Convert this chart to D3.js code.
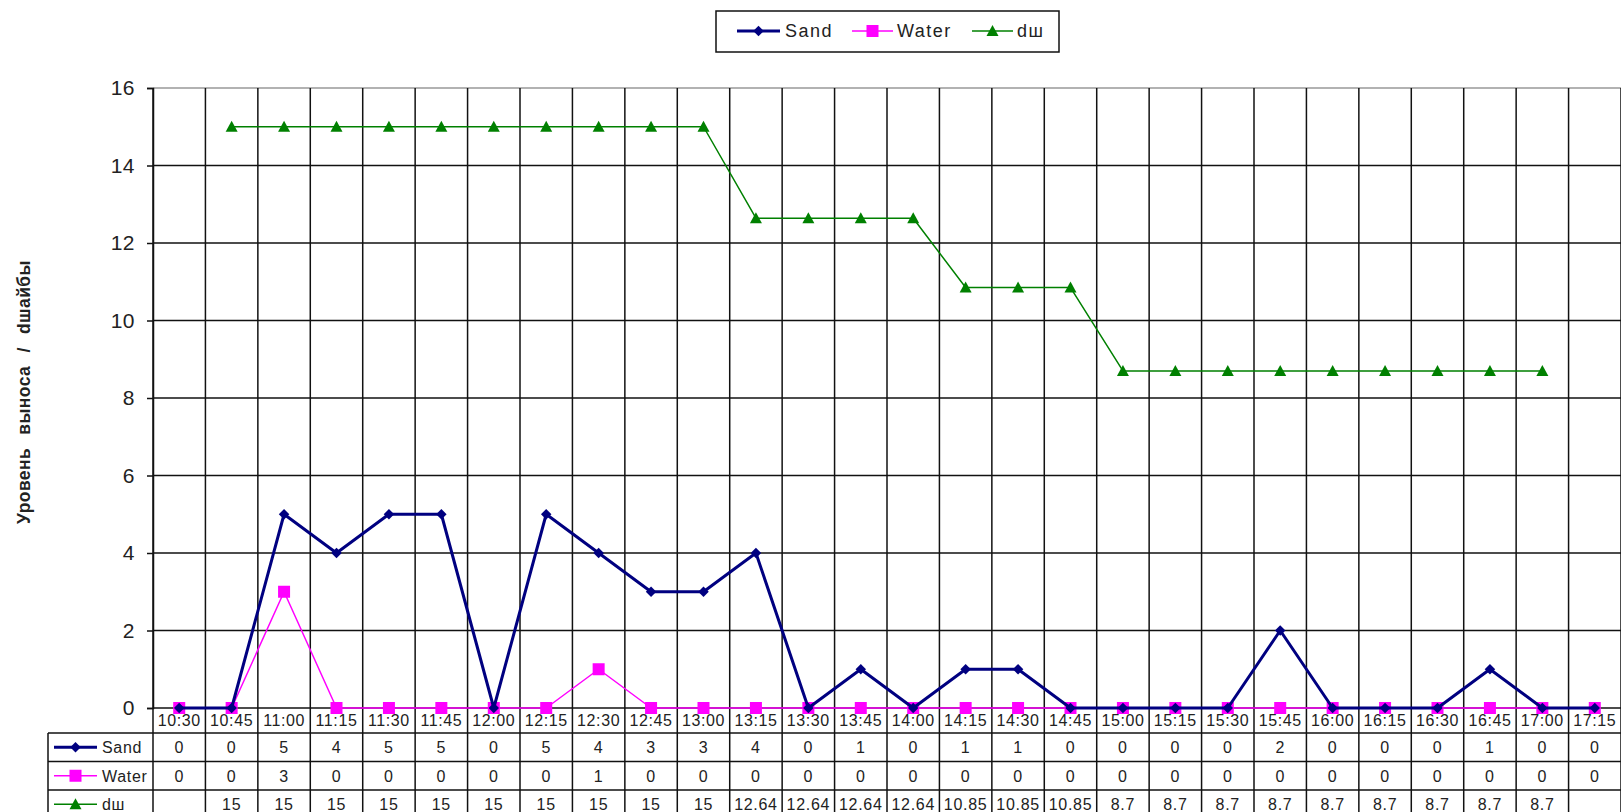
<!DOCTYPE html>
<html>
<head>
<meta charset="utf-8">
<script src="https://cdn.jsdelivr.net/npm/d3@7"></script>
<style>
  html, body { margin: 0; padding: 0; background: #fff; }
  svg { display: block; font-family: "Liberation Sans", Arial, sans-serif; }
</style>
</head>
<body>
<svg id="chart" width="1621" height="812"></svg>
<script>
// Time slots (x categories)
const categories = ["10:30","10:45","11:00","11:15","11:30","11:45","12:00","12:15","12:30","12:45",
  "13:00","13:15","13:30","13:45","14:00","14:15","14:30","14:45","15:00","15:15",
  "15:30","15:45","16:00","16:15","16:30","16:45","17:00","17:15"];

// Series values
const sand  = [0,0,5,4,5,5,0,5,4,3,3,4,0,1,0,1,1,0,0,0,0,2,0,0,0,1,0,0];
const water = [0,0,3,0,0,0,0,0,1,0,0,0,0,0,0,0,0,0,0,0,0,0,0,0,0,0,0,0];
const dsh   = [null,15,15,15,15,15,15,15,15,15,15,12.64,12.64,12.64,12.64,10.85,10.85,10.85,
  8.7,8.7,8.7,8.7,8.7,8.7,8.7,8.7,8.7,null];

// Y-axis ticks
const yTicks = [0,2,4,6,8,10,12,14,16];

const series = [
  { name: "Sand",  values: sand,  color: "#000080", width: 3,   marker: "diamond" },
  { name: "Water", values: water, color: "#FF00FF", width: 1.5, marker: "square" },
  { name: "dш",    values: dsh,   color: "#008000", width: 1.5, marker: "triangle" }
];

const svg = d3.select("#chart");
const plotLeft = 153, plotRight = 1621, plotTop = 88, plotBottom = 708;
const tableLeft = 48, labelRowBottom = 733, rowH = 28.5, tableBottom = 812;

const x = d3.scaleBand().domain(categories).range([plotLeft, plotRight]).padding(0);
const y = d3.scaleLinear().domain([0, 16]).range([plotBottom, plotTop]);
const cx = d => x(d) + x.bandwidth() / 2;

const textColor = "#222";

// Plot frame top
svg.append("line")
  .attr("x1", plotLeft).attr("x2", plotRight).attr("y1", plotTop).attr("y2", plotTop)
  .attr("stroke", "#999").attr("stroke-width", 1.5);

// Horizontal gridlines
svg.append("g").selectAll("line").data(yTicks.filter(t => t > 0 && t < 16)).join("line")
  .attr("x1", plotLeft).attr("x2", plotRight)
  .attr("y1", d => y(d)).attr("y2", d => y(d))
  .attr("stroke", "#111").attr("stroke-width", 1.5);

// Vertical gridlines through plot and data table
const edges = categories.map(c => x(c)).concat([plotRight]);
svg.append("g").selectAll("line").data(edges).join("line")
  .attr("x1", d => d).attr("x2", d => d)
  .attr("y1", plotTop).attr("y2", tableBottom)
  .attr("stroke", "#111").attr("stroke-width", 1.5);

// Y axis with outward ticks
const yAxis = svg.append("g")
  .attr("transform", `translate(${plotLeft},0)`)
  .call(d3.axisLeft(y).tickValues(yTicks).tickSize(6).tickPadding(12));
yAxis.select(".domain").attr("stroke", "#111").attr("stroke-width", 1.5);
yAxis.selectAll(".tick line").attr("stroke", "#111").attr("stroke-width", 1.5);
yAxis.selectAll(".tick text")
  .attr("font-size", 21).attr("fill", textColor).attr("letter-spacing", 0.5)
  .attr("font-family", "Liberation Sans, Arial, sans-serif");
// zero line across the plot
svg.append("line")
  .attr("x1", plotLeft).attr("x2", plotRight).attr("y1", y(0)).attr("y2", y(0))
  .attr("stroke", "#111").attr("stroke-width", 1.5);

// Y-axis title
svg.append("text")
  .attr("transform", "translate(30,392) rotate(-90)")
  .attr("text-anchor", "middle")
  .attr("font-size", 17.5).attr("font-weight", "bold").attr("fill", textColor)
  .attr("word-spacing", 8).attr("letter-spacing", 0.4)
  .text("Уровень выноса / dшайбы");

// Category labels row
svg.append("g").selectAll("text").data(categories).join("text")
  .attr("x", d => cx(d)).attr("y", 720).attr("dy", "0.36em")
  .attr("text-anchor", "middle").attr("font-size", 16).attr("letter-spacing", 0.6)
  .attr("fill", textColor)
  .text(d => d);

// Data table horizontal lines
const rowLines = [labelRowBottom, labelRowBottom + rowH, labelRowBottom + 2 * rowH];
svg.append("g").selectAll("line").data(rowLines).join("line")
  .attr("x1", tableLeft).attr("x2", plotRight)
  .attr("y1", d => d).attr("y2", d => d)
  .attr("stroke", "#111").attr("stroke-width", 1.5);
svg.append("line")
  .attr("x1", tableLeft).attr("x2", tableLeft).attr("y1", labelRowBottom).attr("y2", tableBottom)
  .attr("stroke", "#111").attr("stroke-width", 1.5);

// Marker drawing
function marker(sel, type, color) {
  if (type === "diamond") {
    sel.append("path").attr("d", d3.symbol(d3.symbolDiamond2, 70)()).attr("fill", color);
  } else if (type === "square") {
    sel.append("rect").attr("x", -6).attr("y", -6).attr("width", 12).attr("height", 12).attr("fill", color);
  } else {
    sel.append("path").attr("d", "M0,-6L6,5L-6,5Z").attr("fill", color);
  }
}

// Table rows: legend key, label and values
series.forEach((s, i) => {
  const rowY = labelRowBottom + rowH * i + rowH / 2;
  const key = svg.append("g");
  key.append("line").attr("x1", 54).attr("x2", 97).attr("y1", rowY).attr("y2", rowY)
    .attr("stroke", s.color).attr("stroke-width", s.width);
  const m = key.append("g").attr("transform", `translate(75.5,${rowY})`);
  marker(m, s.marker, s.color);
  svg.append("text").attr("x", 102).attr("y", rowY).attr("dy", "0.36em")
    .attr("font-size", 16).attr("letter-spacing", 0.7).attr("fill", textColor).text(s.name);
  svg.append("g").selectAll("text").data(categories).join("text")
    .attr("x", d => cx(d)).attr("y", rowY).attr("dy", "0.36em")
    .attr("text-anchor", "middle").attr("font-size", 16).attr("letter-spacing", 0.7)
    .attr("fill", textColor)
    .text((d, j) => s.values[j] == null ? "" : s.values[j]);
});

// Series lines and markers (drawn back to front: dш, Water, Sand)
[series[2], series[1], series[0]].forEach(s => {
  const pts = categories.map((c, j) => ({ c, v: s.values[j] })).filter(p => p.v != null);
  svg.append("path").datum(pts)
    .attr("fill", "none").attr("stroke", s.color).attr("stroke-width", s.width)
    .attr("stroke-linejoin", "round")
    .attr("d", d3.line().x(p => cx(p.c)).y(p => y(p.v)));
  pts.forEach(p => {
    const g = svg.append("g").attr("transform", `translate(${cx(p.c)},${y(p.v)})`);
    marker(g, s.marker, s.color);
  });
});

// Legend
const legend = svg.append("g");
legend.append("rect").attr("x", 716).attr("y", 11).attr("width", 343).attr("height", 41)
  .attr("fill", "#fff").attr("stroke", "#111").attr("stroke-width", 1.5);
const legendPos = [{ x1: 737, x2: 780, tx: 785 }, { x1: 852, x2: 893, tx: 897 }, { x1: 972, x2: 1013, tx: 1017 }];
series.forEach((s, i) => {
  const p = legendPos[i], ly = 31;
  legend.append("line").attr("x1", p.x1).attr("x2", p.x2).attr("y1", ly).attr("y2", ly)
    .attr("stroke", s.color).attr("stroke-width", s.width);
  const m = legend.append("g").attr("transform", `translate(${(p.x1 + p.x2) / 2},${ly})`);
  marker(m, s.marker, s.color);
  legend.append("text").attr("x", p.tx).attr("y", ly).attr("dy", "0.36em")
    .attr("font-size", 18).attr("letter-spacing", 1.5).attr("fill", textColor).text(s.name);
});
</script>
</body>
</html>
